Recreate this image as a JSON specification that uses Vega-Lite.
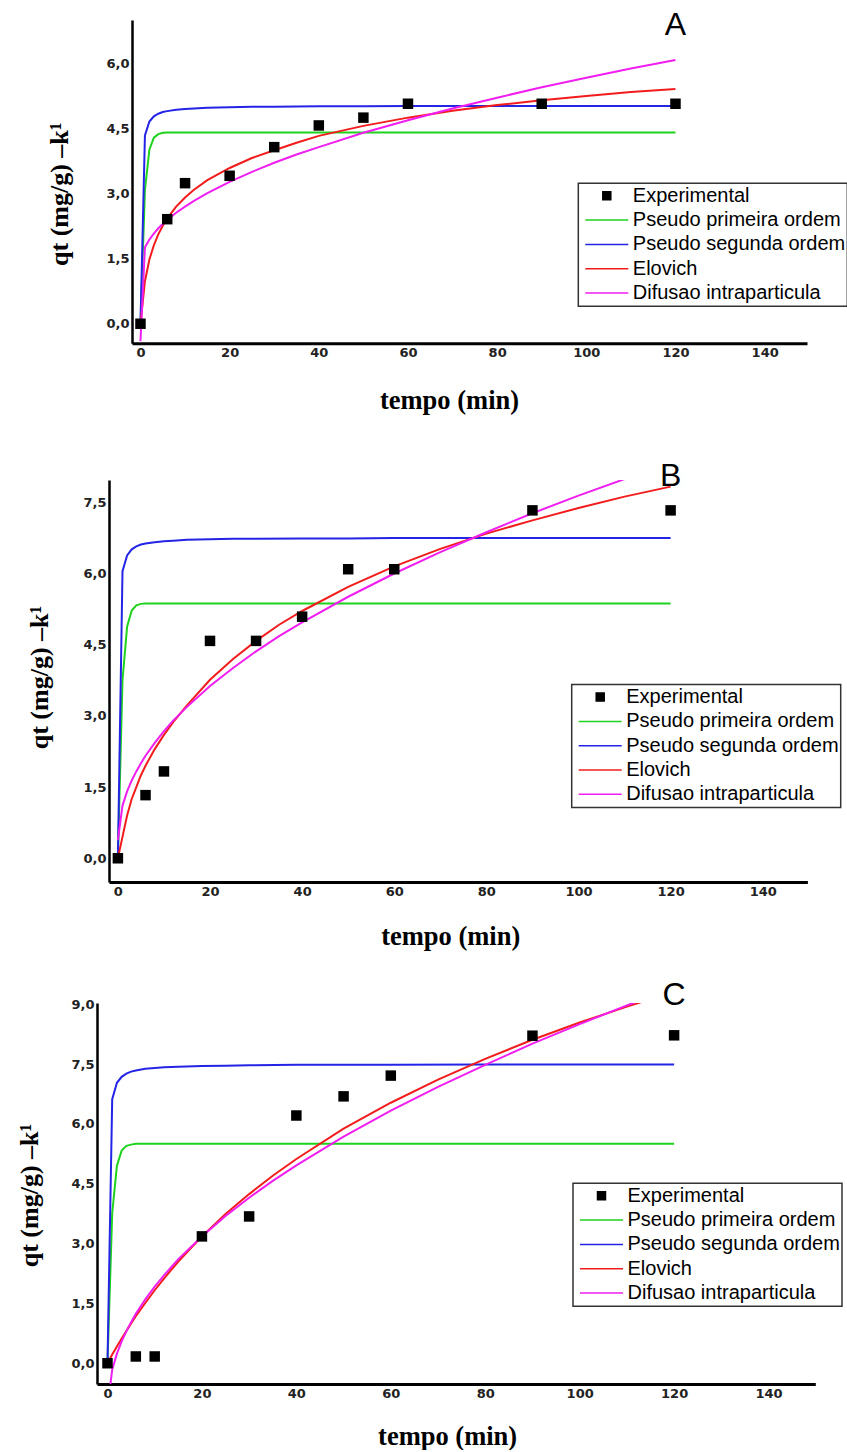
{
  "$schema": "https://vega.github.io/schema/vega-lite/v6.json",
  "padding": {"left": 15, "top": 9, "right": 0, "bottom": 0},
  "background": "white",
  "config": {
    "view": {"stroke": null},
    "axis": {"grid": false, "ticks": false, "tickSize": 0, "labelFont": "DejaVu Sans", "labelFontWeight": "bold", "labelFontSize": 13, "labelColor": "#222222", "labelPadding": 3, "labelFlush": false, "labelOverlap": false, "labelBound": false, "domainColor": "#000000", "titleFont": "Liberation Serif", "titleFontWeight": "bold", "titleColor": "#000000"},
    "legend": {"orient": "none", "title": null, "padding": 2, "strokeColor": "#333333", "fillColor": "white", "labelFont": "Liberation Sans", "labelFontSize": 20, "labelColor": "#000000", "labelLimit": 320, "labelOffset": 3.5, "symbolOffset": 4, "clipHeight": 21, "rowPadding": 3.3, "symbolSize": 1849, "symbolStrokeWidth": 1.5, "symbolType": "stroke"}
  },
  "datasets": {
    "pts": [
      {"p":"A","s":"Experimental","t":0,"q":0},{"p":"A","s":"Experimental","t":6,"q":2.41},{"p":"A","s":"Experimental","t":10,"q":3.24},{"p":"A","s":"Experimental","t":20,"q":3.41},{"p":"A","s":"Experimental","t":30,"q":4.07},{"p":"A","s":"Experimental","t":40,"q":4.57},{"p":"A","s":"Experimental","t":50,"q":4.75},{"p":"A","s":"Experimental","t":60,"q":5.07},{"p":"A","s":"Experimental","t":90,"q":5.07},{"p":"A","s":"Experimental","t":120,"q":5.07},
      {"p":"B","s":"Experimental","t":0,"q":0},{"p":"B","s":"Experimental","t":6,"q":1.33},{"p":"B","s":"Experimental","t":10,"q":1.83},{"p":"B","s":"Experimental","t":20,"q":4.58},{"p":"B","s":"Experimental","t":30,"q":4.58},{"p":"B","s":"Experimental","t":40,"q":5.09},{"p":"B","s":"Experimental","t":50,"q":6.09},{"p":"B","s":"Experimental","t":60,"q":6.09},{"p":"B","s":"Experimental","t":90,"q":7.33},{"p":"B","s":"Experimental","t":120,"q":7.33},
      {"p":"C","s":"Experimental","t":0,"q":0},{"p":"C","s":"Experimental","t":6,"q":0.17},{"p":"C","s":"Experimental","t":10,"q":0.17},{"p":"C","s":"Experimental","t":20,"q":3.18},{"p":"C","s":"Experimental","t":30,"q":3.68},{"p":"C","s":"Experimental","t":40,"q":6.21},{"p":"C","s":"Experimental","t":50,"q":6.69},{"p":"C","s":"Experimental","t":60,"q":7.21},{"p":"C","s":"Experimental","t":90,"q":8.21},{"p":"C","s":"Experimental","t":120,"q":8.22}
    ],
    "lbl": [
      {"p":"A","label":"A","t":120,"q":6.88},
      {"p":"B","label":"B","t":120,"q":8.05},
      {"p":"C","label":"C","t":120,"q":9.24}
    ],
    "crv": [
      {"p":"A","s":"Pseudo primeira ordem","t":0,"q":0},{"p":"A","s":"Pseudo primeira ordem","t":1,"q":3.08},{"p":"A","s":"Pseudo primeira ordem","t":2,"q":4.01},{"p":"A","s":"Pseudo primeira ordem","t":3,"q":4.29},{"p":"A","s":"Pseudo primeira ordem","t":4,"q":4.37},{"p":"A","s":"Pseudo primeira ordem","t":5,"q":4.40},{"p":"A","s":"Pseudo primeira ordem","t":6,"q":4.41},{"p":"A","s":"Pseudo primeira ordem","t":8,"q":4.41},{"p":"A","s":"Pseudo primeira ordem","t":120,"q":4.41},
      {"p":"A","s":"Pseudo segunda ordem","t":0,"q":0},{"p":"A","s":"Pseudo segunda ordem","t":1,"q":4.34},{"p":"A","s":"Pseudo segunda ordem","t":2,"q":4.66},{"p":"A","s":"Pseudo segunda ordem","t":3,"q":4.78},{"p":"A","s":"Pseudo segunda ordem","t":4,"q":4.84},{"p":"A","s":"Pseudo segunda ordem","t":5,"q":4.88},{"p":"A","s":"Pseudo segunda ordem","t":6,"q":4.90},{"p":"A","s":"Pseudo segunda ordem","t":8,"q":4.93},{"p":"A","s":"Pseudo segunda ordem","t":10,"q":4.95},{"p":"A","s":"Pseudo segunda ordem","t":12,"q":4.96},{"p":"A","s":"Pseudo segunda ordem","t":15,"q":4.98},{"p":"A","s":"Pseudo segunda ordem","t":20,"q":4.99},{"p":"A","s":"Pseudo segunda ordem","t":25,"q":5.0},{"p":"A","s":"Pseudo segunda ordem","t":30,"q":5.0},{"p":"A","s":"Pseudo segunda ordem","t":40,"q":5.01},{"p":"A","s":"Pseudo segunda ordem","t":50,"q":5.01},{"p":"A","s":"Pseudo segunda ordem","t":60,"q":5.02},{"p":"A","s":"Pseudo segunda ordem","t":80,"q":5.02},{"p":"A","s":"Pseudo segunda ordem","t":100,"q":5.02},{"p":"A","s":"Pseudo segunda ordem","t":120,"q":5.02},
      {"p":"A","s":"Elovich","t":0,"q":0},{"p":"A","s":"Elovich","t":1,"q":0.98},{"p":"A","s":"Elovich","t":2,"q":1.48},{"p":"A","s":"Elovich","t":3,"q":1.81},{"p":"A","s":"Elovich","t":4,"q":2.06},{"p":"A","s":"Elovich","t":5,"q":2.26},{"p":"A","s":"Elovich","t":6,"q":2.43},{"p":"A","s":"Elovich","t":8,"q":2.70},{"p":"A","s":"Elovich","t":10,"q":2.91},{"p":"A","s":"Elovich","t":12,"q":3.09},{"p":"A","s":"Elovich","t":15,"q":3.31},{"p":"A","s":"Elovich","t":20,"q":3.59},{"p":"A","s":"Elovich","t":25,"q":3.82},{"p":"A","s":"Elovich","t":30,"q":4.0},{"p":"A","s":"Elovich","t":35,"q":4.17},{"p":"A","s":"Elovich","t":40,"q":4.33},{"p":"A","s":"Elovich","t":50,"q":4.56},{"p":"A","s":"Elovich","t":60,"q":4.75},{"p":"A","s":"Elovich","t":70,"q":4.91},{"p":"A","s":"Elovich","t":80,"q":5.04},{"p":"A","s":"Elovich","t":90,"q":5.15},{"p":"A","s":"Elovich","t":100,"q":5.25},{"p":"A","s":"Elovich","t":110,"q":5.34},{"p":"A","s":"Elovich","t":120,"q":5.41},
      {"p":"A","s":"Difusao intraparticula","t":0,"q":-0.4},{"p":"A","s":"Difusao intraparticula","t":1,"q":1.76},{"p":"A","s":"Difusao intraparticula","t":2,"q":1.94},{"p":"A","s":"Difusao intraparticula","t":3,"q":2.08},{"p":"A","s":"Difusao intraparticula","t":4,"q":2.2},{"p":"A","s":"Difusao intraparticula","t":5,"q":2.3},{"p":"A","s":"Difusao intraparticula","t":6,"q":2.39},{"p":"A","s":"Difusao intraparticula","t":8,"q":2.56},{"p":"A","s":"Difusao intraparticula","t":10,"q":2.7},{"p":"A","s":"Difusao intraparticula","t":12,"q":2.83},{"p":"A","s":"Difusao intraparticula","t":15,"q":3.01},{"p":"A","s":"Difusao intraparticula","t":20,"q":3.27},{"p":"A","s":"Difusao intraparticula","t":25,"q":3.5},{"p":"A","s":"Difusao intraparticula","t":30,"q":3.71},{"p":"A","s":"Difusao intraparticula","t":35,"q":3.9},{"p":"A","s":"Difusao intraparticula","t":40,"q":4.07},{"p":"A","s":"Difusao intraparticula","t":50,"q":4.4},{"p":"A","s":"Difusao intraparticula","t":60,"q":4.69},{"p":"A","s":"Difusao intraparticula","t":70,"q":4.96},{"p":"A","s":"Difusao intraparticula","t":80,"q":5.21},{"p":"A","s":"Difusao intraparticula","t":90,"q":5.45},{"p":"A","s":"Difusao intraparticula","t":100,"q":5.67},{"p":"A","s":"Difusao intraparticula","t":110,"q":5.88},{"p":"A","s":"Difusao intraparticula","t":120,"q":6.08},
      {"p":"B","s":"Pseudo primeira ordem","t":0,"q":0},{"p":"B","s":"Pseudo primeira ordem","t":1,"q":3.75},{"p":"B","s":"Pseudo primeira ordem","t":2,"q":4.88},{"p":"B","s":"Pseudo primeira ordem","t":3,"q":5.22},{"p":"B","s":"Pseudo primeira ordem","t":4,"q":5.33},{"p":"B","s":"Pseudo primeira ordem","t":5,"q":5.36},{"p":"B","s":"Pseudo primeira ordem","t":6,"q":5.37},{"p":"B","s":"Pseudo primeira ordem","t":8,"q":5.37},{"p":"B","s":"Pseudo primeira ordem","t":120,"q":5.37},
      {"p":"B","s":"Pseudo segunda ordem","t":0,"q":0},{"p":"B","s":"Pseudo segunda ordem","t":1,"q":6.05},{"p":"B","s":"Pseudo segunda ordem","t":2,"q":6.38},{"p":"B","s":"Pseudo segunda ordem","t":3,"q":6.51},{"p":"B","s":"Pseudo segunda ordem","t":4,"q":6.57},{"p":"B","s":"Pseudo segunda ordem","t":5,"q":6.61},{"p":"B","s":"Pseudo segunda ordem","t":6,"q":6.63},{"p":"B","s":"Pseudo segunda ordem","t":8,"q":6.66},{"p":"B","s":"Pseudo segunda ordem","t":10,"q":6.68},{"p":"B","s":"Pseudo segunda ordem","t":12,"q":6.69},{"p":"B","s":"Pseudo segunda ordem","t":15,"q":6.71},{"p":"B","s":"Pseudo segunda ordem","t":20,"q":6.72},{"p":"B","s":"Pseudo segunda ordem","t":25,"q":6.73},{"p":"B","s":"Pseudo segunda ordem","t":30,"q":6.73},{"p":"B","s":"Pseudo segunda ordem","t":40,"q":6.74},{"p":"B","s":"Pseudo segunda ordem","t":50,"q":6.74},{"p":"B","s":"Pseudo segunda ordem","t":60,"q":6.75},{"p":"B","s":"Pseudo segunda ordem","t":80,"q":6.75},{"p":"B","s":"Pseudo segunda ordem","t":100,"q":6.75},{"p":"B","s":"Pseudo segunda ordem","t":120,"q":6.75},
      {"p":"B","s":"Elovich","t":0,"q":0},{"p":"B","s":"Elovich","t":1,"q":0.45},{"p":"B","s":"Elovich","t":2,"q":0.9},{"p":"B","s":"Elovich","t":3,"q":1.25},{"p":"B","s":"Elovich","t":4,"q":1.5},{"p":"B","s":"Elovich","t":5,"q":1.75},{"p":"B","s":"Elovich","t":6,"q":1.95},{"p":"B","s":"Elovich","t":8,"q":2.3},{"p":"B","s":"Elovich","t":10,"q":2.6},{"p":"B","s":"Elovich","t":12,"q":2.87},{"p":"B","s":"Elovich","t":15,"q":3.22},{"p":"B","s":"Elovich","t":20,"q":3.76},{"p":"B","s":"Elovich","t":25,"q":4.2},{"p":"B","s":"Elovich","t":30,"q":4.58},{"p":"B","s":"Elovich","t":35,"q":4.92},{"p":"B","s":"Elovich","t":40,"q":5.21},{"p":"B","s":"Elovich","t":50,"q":5.72},{"p":"B","s":"Elovich","t":60,"q":6.15},{"p":"B","s":"Elovich","t":70,"q":6.52},{"p":"B","s":"Elovich","t":80,"q":6.84},{"p":"B","s":"Elovich","t":90,"q":7.12},{"p":"B","s":"Elovich","t":100,"q":7.38},{"p":"B","s":"Elovich","t":110,"q":7.62},{"p":"B","s":"Elovich","t":120,"q":7.83},
      {"p":"B","s":"Difusao intraparticula","t":0,"q":0.38},{"p":"B","s":"Difusao intraparticula","t":1,"q":1.11},{"p":"B","s":"Difusao intraparticula","t":2,"q":1.41},{"p":"B","s":"Difusao intraparticula","t":3,"q":1.64},{"p":"B","s":"Difusao intraparticula","t":4,"q":1.83},{"p":"B","s":"Difusao intraparticula","t":5,"q":2.0},{"p":"B","s":"Difusao intraparticula","t":6,"q":2.16},{"p":"B","s":"Difusao intraparticula","t":8,"q":2.43},{"p":"B","s":"Difusao intraparticula","t":10,"q":2.68},{"p":"B","s":"Difusao intraparticula","t":12,"q":2.9},{"p":"B","s":"Difusao intraparticula","t":15,"q":3.19},{"p":"B","s":"Difusao intraparticula","t":20,"q":3.63},{"p":"B","s":"Difusao intraparticula","t":25,"q":4.01},{"p":"B","s":"Difusao intraparticula","t":30,"q":4.36},{"p":"B","s":"Difusao intraparticula","t":35,"q":4.68},{"p":"B","s":"Difusao intraparticula","t":40,"q":4.97},{"p":"B","s":"Difusao intraparticula","t":50,"q":5.51},{"p":"B","s":"Difusao intraparticula","t":60,"q":6.0},{"p":"B","s":"Difusao intraparticula","t":70,"q":6.45},{"p":"B","s":"Difusao intraparticula","t":80,"q":6.87},{"p":"B","s":"Difusao intraparticula","t":90,"q":7.27},{"p":"B","s":"Difusao intraparticula","t":100,"q":7.64},{"p":"B","s":"Difusao intraparticula","t":110,"q":7.99},{"p":"B","s":"Difusao intraparticula","t":120,"q":8.33},
      {"p":"C","s":"Pseudo primeira ordem","t":0,"q":0},{"p":"C","s":"Pseudo primeira ordem","t":1,"q":3.76},{"p":"C","s":"Pseudo primeira ordem","t":2,"q":4.95},{"p":"C","s":"Pseudo primeira ordem","t":3,"q":5.33},{"p":"C","s":"Pseudo primeira ordem","t":4,"q":5.45},{"p":"C","s":"Pseudo primeira ordem","t":5,"q":5.48},{"p":"C","s":"Pseudo primeira ordem","t":6,"q":5.5},{"p":"C","s":"Pseudo primeira ordem","t":8,"q":5.5},{"p":"C","s":"Pseudo primeira ordem","t":120,"q":5.5},
      {"p":"C","s":"Pseudo segunda ordem","t":0,"q":0},{"p":"C","s":"Pseudo segunda ordem","t":1,"q":6.62},{"p":"C","s":"Pseudo segunda ordem","t":2,"q":7.03},{"p":"C","s":"Pseudo segunda ordem","t":3,"q":7.18},{"p":"C","s":"Pseudo segunda ordem","t":4,"q":7.26},{"p":"C","s":"Pseudo segunda ordem","t":5,"q":7.31},{"p":"C","s":"Pseudo segunda ordem","t":6,"q":7.34},{"p":"C","s":"Pseudo segunda ordem","t":8,"q":7.38},{"p":"C","s":"Pseudo segunda ordem","t":10,"q":7.4},{"p":"C","s":"Pseudo segunda ordem","t":12,"q":7.42},{"p":"C","s":"Pseudo segunda ordem","t":15,"q":7.43},{"p":"C","s":"Pseudo segunda ordem","t":20,"q":7.45},{"p":"C","s":"Pseudo segunda ordem","t":25,"q":7.46},{"p":"C","s":"Pseudo segunda ordem","t":30,"q":7.47},{"p":"C","s":"Pseudo segunda ordem","t":40,"q":7.48},{"p":"C","s":"Pseudo segunda ordem","t":50,"q":7.48},{"p":"C","s":"Pseudo segunda ordem","t":60,"q":7.48},{"p":"C","s":"Pseudo segunda ordem","t":80,"q":7.49},{"p":"C","s":"Pseudo segunda ordem","t":100,"q":7.49},{"p":"C","s":"Pseudo segunda ordem","t":120,"q":7.49},
      {"p":"C","s":"Elovich","t":0,"q":0},{"p":"C","s":"Elovich","t":1,"q":0.22},{"p":"C","s":"Elovich","t":2,"q":0.42},{"p":"C","s":"Elovich","t":3,"q":0.62},{"p":"C","s":"Elovich","t":4,"q":0.81},{"p":"C","s":"Elovich","t":5,"q":1.0},{"p":"C","s":"Elovich","t":6,"q":1.18},{"p":"C","s":"Elovich","t":8,"q":1.51},{"p":"C","s":"Elovich","t":10,"q":1.83},{"p":"C","s":"Elovich","t":12,"q":2.13},{"p":"C","s":"Elovich","t":15,"q":2.55},{"p":"C","s":"Elovich","t":20,"q":3.18},{"p":"C","s":"Elovich","t":25,"q":3.74},{"p":"C","s":"Elovich","t":30,"q":4.24},{"p":"C","s":"Elovich","t":35,"q":4.7},{"p":"C","s":"Elovich","t":40,"q":5.12},{"p":"C","s":"Elovich","t":50,"q":5.88},{"p":"C","s":"Elovich","t":60,"q":6.53},{"p":"C","s":"Elovich","t":70,"q":7.11},{"p":"C","s":"Elovich","t":80,"q":7.63},{"p":"C","s":"Elovich","t":90,"q":8.11},{"p":"C","s":"Elovich","t":100,"q":8.54},{"p":"C","s":"Elovich","t":110,"q":8.94},{"p":"C","s":"Elovich","t":120,"q":9.31},
      {"p":"C","s":"Difusao intraparticula","t":0,"q":-1.12},{"p":"C","s":"Difusao intraparticula","t":1,"q":-0.16},{"p":"C","s":"Difusao intraparticula","t":2,"q":0.24},{"p":"C","s":"Difusao intraparticula","t":3,"q":0.55},{"p":"C","s":"Difusao intraparticula","t":4,"q":0.8},{"p":"C","s":"Difusao intraparticula","t":5,"q":1.03},{"p":"C","s":"Difusao intraparticula","t":6,"q":1.24},{"p":"C","s":"Difusao intraparticula","t":8,"q":1.6},{"p":"C","s":"Difusao intraparticula","t":10,"q":1.92},{"p":"C","s":"Difusao intraparticula","t":12,"q":2.21},{"p":"C","s":"Difusao intraparticula","t":15,"q":2.61},{"p":"C","s":"Difusao intraparticula","t":20,"q":3.18},{"p":"C","s":"Difusao intraparticula","t":25,"q":3.69},{"p":"C","s":"Difusao intraparticula","t":30,"q":4.15},{"p":"C","s":"Difusao intraparticula","t":35,"q":4.57},{"p":"C","s":"Difusao intraparticula","t":40,"q":4.96},{"p":"C","s":"Difusao intraparticula","t":50,"q":5.68},{"p":"C","s":"Difusao intraparticula","t":60,"q":6.33},{"p":"C","s":"Difusao intraparticula","t":70,"q":6.93},{"p":"C","s":"Difusao intraparticula","t":80,"q":7.48},{"p":"C","s":"Difusao intraparticula","t":90,"q":8.01},{"p":"C","s":"Difusao intraparticula","t":100,"q":8.5},{"p":"C","s":"Difusao intraparticula","t":110,"q":8.97},{"p":"C","s":"Difusao intraparticula","t":120,"q":9.42}
    ]
  },
  "resolve": {"scale": {"color": "independent"}, "legend": {"color": "independent"}},
  "spacing": 46,
  "vconcat": [
    {
      "hconcat": [
        {"width": 31, "height": 1, "data": {"values": []}, "mark": {"type": "point", "opacity": 0}, "encoding": {}},
        {
          "width": 675, "height": 323.3,
          "encoding": {
            "x": {"field": "t", "type": "quantitative", "scale": {"domain": [-1.9, 149.5], "nice": false, "zero": false},
                  "axis": {"values": [0,20,40,60,80,100,120,140], "domainWidth": 3, "title": "tempo (min)", "titleFontSize": 26.5, "titleX": 317, "titleY": 65, "titleAlign": "center", "titleBaseline": "alphabetic", "titleAnchor": null}},
            "y": {"field": "q", "type": "quantitative", "scale": {"domain": [-0.45, 7.0], "nice": false, "zero": false},
                  "axis": {"values": [0,1.5,3,4.5,6], "labelExpr": "replace(format(datum.value, '.1f'), '.', ',')", "domainWidth": 2.5, "title": "qt (mg/g) –k¹", "titleFontSize": 26, "titleAngle": 270, "titleX": -72.7, "titleY": 173.7, "titleAlign": "center", "titleBaseline": "middle"}},
            "color": {"field": "s", "type": "nominal",
                      "scale": {"domain": ["Experimental","Pseudo primeira ordem","Pseudo segunda ordem","Elovich","Difusao intraparticula"], "range": ["#000000","#1ed21e","#2424e6","#f21c1c","#f01ef0"]},
                      "legend": {"legendX": 446.3, "legendY": 163.3,
                        "encode": {
                          "legend": {"update": {"strokeWidth": {"value": 1.5}}},
                          "symbols": {"update": {
                            "shape": {"signal": "datum.value === 'Experimental' ? 'square' : 'stroke'"},
                            "size": {"signal": "datum.value === 'Experimental' ? 64 : 1849"},
                            "opacity": {"value": 1},
                            "fill": {"signal": "datum.value === 'Experimental' ? '#000000' : 'transparent'"},
                            "stroke": {"signal": "datum.value === 'Experimental' ? 'transparent' : datum.value === 'Pseudo primeira ordem' ? '#22b022' : datum.value === 'Pseudo segunda ordem' ? '#2b2ba8' : datum.value === 'Elovich' ? '#c62828' : '#c822c8'"},
                            "strokeWidth": {"value": 1.5}}},
                          "entries": {
                            "enter": {"width": {"value": 44}, "stroke": {"signal": "datum.value === 'Experimental' ? '#b22222' : null"}, "strokeWidth": {"value": 1.3}},
                            "update": {"width": {"value": 44}, "stroke": {"signal": "datum.value === 'Experimental' ? '#b22222' : null"}, "strokeWidth": {"value": 1.3}}}
                        }}}
          },
          "layer": [
            {"data": {"name": "crv"}, "transform": [{"filter": "datum.p === 'A'"}], "mark": {"type": "line", "clip": true, "strokeWidth": 2}},
            {"data": {"name": "pts"}, "transform": [{"filter": "datum.p === 'A'"}], "mark": {"type": "point", "shape": "square", "filled": true, "size": 110, "opacity": 1}},
            {"data": {"name": "lbl"}, "transform": [{"filter": "datum.p === 'A'"}], "mark": {"type": "text", "font": "Liberation Sans", "fontSize": 32, "align": "center", "baseline": "middle"}, "encoding": {"text": {"field": "label"}, "color": {"value": "#000000"}}}
          ]
        }
      ],
      "spacing": 0,
      "resolve": {"scale": {"color": "independent"}, "legend": {"color": "independent"}}
    },
    {
      "vconcat": [
        {
          "hconcat": [
            {"width": 10.5, "height": 1, "data": {"values": []}, "mark": {"type": "point", "opacity": 0}, "encoding": {}},
            {
              "width": 698.4, "height": 402,
              "encoding": {
                "x": {"field": "t", "type": "quantitative", "scale": {"domain": [-1.93, 149.7], "nice": false, "zero": false},
                      "axis": {"values": [0,20,40,60,80,100,120,140], "domainWidth": 3, "title": "tempo (min)", "titleFontSize": 26.5, "titleX": 341.2, "titleY": 62, "titleAlign": "center", "titleBaseline": "alphabetic", "titleAnchor": null}},
                "y": {"field": "q", "type": "quantitative", "scale": {"domain": [-0.5, 7.97], "nice": false, "zero": false},
                      "axis": {"values": [0,1.5,3,4.5,6,7.5], "labelExpr": "replace(format(datum.value, '.1f'), '.', ',')", "domainWidth": 2.5, "title": "qt (mg/g) –k¹", "titleFontSize": 26, "titleAngle": 270, "titleX": -69.8, "titleY": 197, "titleAlign": "center", "titleBaseline": "middle"}},
                "color": {"field": "s", "type": "nominal",
                          "scale": {"domain": ["Experimental","Pseudo primeira ordem","Pseudo segunda ordem","Elovich","Difusao intraparticula"], "range": ["#000000","#1ed21e","#2424e6","#f21c1c","#f01ef0"]},
                          "legend": {"legendX": 462.7, "legendY": 204.6,
                            "encode": {
                              "legend": {"update": {"strokeWidth": {"value": 1.5}}},
                              "symbols": {"update": {
                                "shape": {"signal": "datum.value === 'Experimental' ? 'square' : 'stroke'"},
                                "size": {"signal": "datum.value === 'Experimental' ? 64 : 1849"},
                                "opacity": {"value": 1},
                                "fill": {"signal": "datum.value === 'Experimental' ? '#000000' : 'transparent'"},
                                "stroke": {"signal": "datum.value === 'Experimental' ? 'transparent' : datum.value === 'Pseudo primeira ordem' ? '#22b022' : datum.value === 'Pseudo segunda ordem' ? '#2b2ba8' : datum.value === 'Elovich' ? '#c62828' : '#c822c8'"},
                                "strokeWidth": {"value": 1.5}}},
                              "entries": {
                                "enter": {"width": {"value": 44}, "stroke": {"signal": "datum.value === 'Experimental' ? '#b22222' : null"}, "strokeWidth": {"value": 1.3}},
                                "update": {"width": {"value": 44}, "stroke": {"signal": "datum.value === 'Experimental' ? '#b22222' : null"}, "strokeWidth": {"value": 1.3}}}
                            }}}
              },
              "layer": [
                {"data": {"name": "crv"}, "transform": [{"filter": "datum.p === 'B'"}], "mark": {"type": "line", "clip": true, "strokeWidth": 2}},
                {"data": {"name": "pts"}, "transform": [{"filter": "datum.p === 'B'"}], "mark": {"type": "point", "shape": "square", "filled": true, "size": 110, "opacity": 1}},
                {"data": {"name": "lbl"}, "transform": [{"filter": "datum.p === 'B'"}], "mark": {"type": "text", "font": "Liberation Sans", "fontSize": 32, "align": "center", "baseline": "middle"}, "encoding": {"text": {"field": "label"}, "color": {"value": "#000000"}}}
              ]
            }
          ],
          "spacing": 0,
          "resolve": {"scale": {"color": "independent"}, "legend": {"color": "independent"}}
        },
        {
          "hconcat": [
            {"width": 1, "height": 1, "data": {"values": []}, "mark": {"type": "point", "opacity": 0}, "encoding": {}},
            {
              "width": 718.3, "height": 381,
              "encoding": {
                "x": {"field": "t", "type": "quantitative", "scale": {"domain": [-2.22, 149.9], "nice": false, "zero": false},
                      "axis": {"values": [0,20,40,60,80,100,120,140], "domainWidth": 3, "title": "tempo (min)", "titleFontSize": 26.5, "titleX": 350.1, "titleY": 60, "titleAlign": "center", "titleBaseline": "alphabetic", "titleAnchor": null}},
                "y": {"field": "q", "type": "quantitative", "scale": {"domain": [-0.52, 9.03], "nice": false, "zero": false},
                      "axis": {"values": [0,1.5,3,4.5,6,7.5,9], "labelExpr": "replace(format(datum.value, '.1f'), '.', ',')", "domainWidth": 2.5, "title": "qt (mg/g) –k¹", "titleFontSize": 26, "titleAngle": 270, "titleX": -67.7, "titleY": 192, "titleAlign": "center", "titleBaseline": "middle"}},
                "color": {"field": "s", "type": "nominal",
                          "scale": {"domain": ["Experimental","Pseudo primeira ordem","Pseudo segunda ordem","Elovich","Difusao intraparticula"], "range": ["#000000","#1ed21e","#2424e6","#f21c1c","#f01ef0"]},
                          "legend": {"legendX": 476, "legendY": 180.3,
                            "encode": {
                              "legend": {"update": {"strokeWidth": {"value": 1.5}}},
                              "symbols": {"update": {
                                "shape": {"signal": "datum.value === 'Experimental' ? 'square' : 'stroke'"},
                                "size": {"signal": "datum.value === 'Experimental' ? 64 : 1849"},
                                "opacity": {"value": 1},
                                "fill": {"signal": "datum.value === 'Experimental' ? '#000000' : 'transparent'"},
                                "stroke": {"signal": "datum.value === 'Experimental' ? 'transparent' : datum.value === 'Pseudo primeira ordem' ? '#22b022' : datum.value === 'Pseudo segunda ordem' ? '#2b2ba8' : datum.value === 'Elovich' ? '#c62828' : '#c822c8'"},
                                "strokeWidth": {"value": 1.5}}},
                              "entries": {
                                "enter": {"width": {"value": 44}, "stroke": {"signal": "datum.value === 'Experimental' ? '#b22222' : null"}, "strokeWidth": {"value": 1.3}},
                                "update": {"width": {"value": 44}, "stroke": {"signal": "datum.value === 'Experimental' ? '#b22222' : null"}, "strokeWidth": {"value": 1.3}}}
                            }}}
              },
              "layer": [
                {"data": {"name": "crv"}, "transform": [{"filter": "datum.p === 'C'"}], "mark": {"type": "line", "clip": true, "strokeWidth": 2}},
                {"data": {"name": "pts"}, "transform": [{"filter": "datum.p === 'C'"}], "mark": {"type": "point", "shape": "square", "filled": true, "size": 110, "opacity": 1}},
                {"data": {"name": "lbl"}, "transform": [{"filter": "datum.p === 'C'"}], "mark": {"type": "text", "font": "Liberation Sans", "fontSize": 32, "align": "center", "baseline": "middle"}, "encoding": {"text": {"field": "label"}, "color": {"value": "#000000"}}}
              ]
            }
          ],
          "spacing": 0,
          "resolve": {"scale": {"color": "independent"}, "legend": {"color": "independent"}}
        }
      ],
      "spacing": 28,
      "resolve": {"scale": {"color": "independent"}, "legend": {"color": "independent"}}
    }
  ]
}
